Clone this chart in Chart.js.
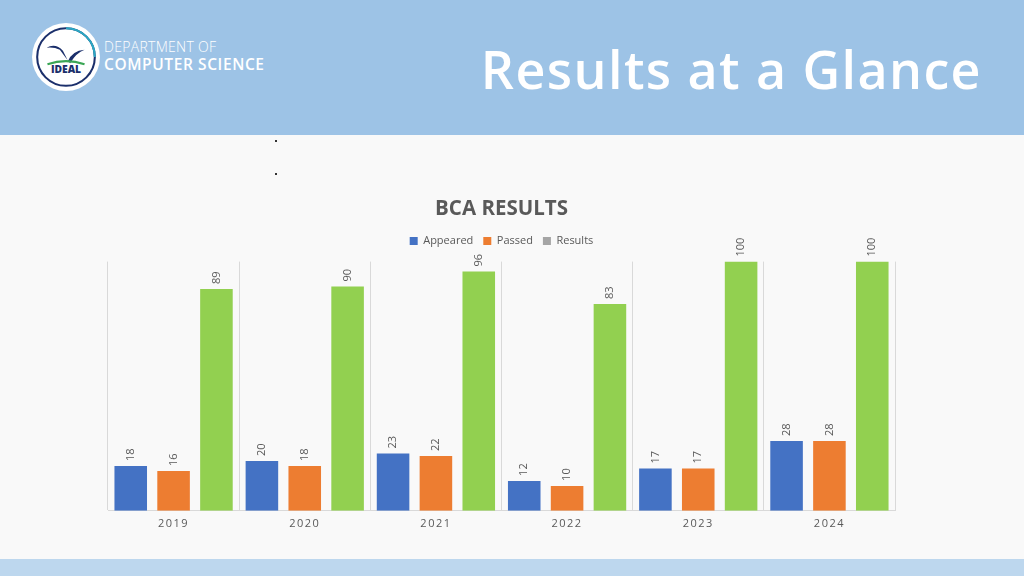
<!DOCTYPE html>
<html>
<head>
<meta charset="utf-8">
<script src="https://cdn.jsdelivr.net/npm/chart.js@4.4.1/dist/chart.umd.min.js"></script>
<style>
  html, body { margin: 0; padding: 0; }
  body { width: 1024px; height: 576px; position: relative; overflow: hidden; background: #f9f9f9; font-family: "Open Sans", sans-serif; }
  .header { position: absolute; left: 0; top: 0; width: 1024px; height: 135px; background: #9dc3e6; }
  .footer { position: absolute; left: 0; top: 559px; width: 1024px; height: 17px; background: #bdd7ee; }
  .logo { position: absolute; left: 31px; top: 22px; width: 70px; height: 70px; }
  .dept1 { position: absolute; left: 104px; top: 37px; color: #fff; font-size: 14px; font-weight: 300; letter-spacing: 0.3px; }
  .dept2 { position: absolute; left: 104px; top: 53px; color: #fff; font-size: 15.5px; font-weight: 600; letter-spacing: 0.6px; }
  .big { position: absolute; right: 42px; top: 33px; color: #fff; font-size: 52px; font-weight: 600; letter-spacing: 1.4px; }
  .dot { position: absolute; left: 275px; width: 2px; height: 2px; background: #333; }
  #wrap { position: absolute; left: 0; top: 190px; width: 1024px; height: 360px; }
</style>
</head>
<body>
<div class="header"></div>
<svg class="logo" viewBox="0 0 68 68">
  <circle cx="34" cy="34" r="33" fill="#fff"/>
  <circle cx="34" cy="34" r="28" fill="none" stroke="#1b2f6b" stroke-width="2"/>
  <path d="M34 6 A28 28 0 0 1 62 34" fill="none" stroke="#2aa8c4" stroke-width="2"/>
  <path d="M15 25 Q24 20 31 28 Q34 34 36 38 Q40 28 52 27 Q44 30 38 40 Q33 34 28 27 Q22 24 15 25 Z" fill="#1b2f6b"/>
  <path d="M16 41 Q34 35 52 41" fill="none" stroke="#3aa655" stroke-width="2"/>
  <text x="34" y="50" text-anchor="middle" font-family="Open Sans" font-weight="800" font-size="10" fill="#1b2f6b">IDEAL</text>
</svg>
<div class="dept1">DEPARTMENT OF</div>
<div class="dept2">COMPUTER SCIENCE</div>
<div class="big">Results at a Glance</div>
<div class="dot" style="top:140px"></div>
<div class="dot" style="top:173px"></div>
<div id="wrap"><canvas id="myChart"></canvas></div>
<div class="footer"></div>
<script>
// Data

const years = ['2019', '2020', '2021', '2022', '2023', '2024'];
const appeared = [18, 20, 23, 12, 17, 28];
const passed = [16, 18, 22, 10, 17, 28];
const results = [89, 90, 96, 83, 100, 100];

// Labels above bars

const barLabels = {
    id: 'barLabels',
    afterDatasetsDraw(chart) {
        const ctx = chart.ctx;
        ctx.save();
        ctx.font = '11px "Open Sans"';
        ctx.fillStyle = '#595959';
        ctx.textAlign = 'left';
        ctx.textBaseline = 'middle';
        chart.data.datasets.forEach((ds, i) => {
            chart.getDatasetMeta(i).data.forEach((bar, j) => {
                ctx.save();
                ctx.translate(bar.x, bar.y - 5);
                ctx.rotate(-Math.PI / 2);
                ctx.fillText(ds.data[j], 0, 0);
                ctx.restore();
            });
        });
        ctx.restore();
    }
};

// Extra room under legend + spaced year labels

const tweaks = {
    id: 'tweaks',
    beforeInit(chart) {
        const fit = chart.legend.fit;
        chart.legend.fit = function () {
            fit.bind(chart.legend)();
            this.height += 5;
        };
    },
    afterLayout(chart) {
        const x = chart.scales.x;
        if (x._spaced) return;
        const draw = x.drawLabels;
        x.drawLabels = function (area) {
            chart.ctx.save();
            chart.ctx.letterSpacing = '1.5px';
            draw.call(x, area);
            chart.ctx.restore();
        };
        x._spaced = true;
    }
};

// Chart

const ctx = document.getElementById('myChart').getContext('2d');

new Chart(ctx, {
    type: 'bar',
    data: {
        labels: years,
        datasets: [
            { label: 'Appeared', data: appeared, backgroundColor: '#4472c4' },
            { label: 'Passed', data: passed, backgroundColor: '#ed7d31' },
            { label: 'Results', data: results, backgroundColor: '#92d050' }
        ]
    },
    options: {
        responsive: true,
        maintainAspectRatio: false,
        animation: false,
        datasets: {
            bar: { categoryPercentage: 0.98, barPercentage: 0.76 }
        },
        layout: { padding: { left: 108, right: 129, top: 0, bottom: 14 } },
        plugins: {
            title: {
                display: true,
                text: 'BCA RESULTS',
                color: '#595959',
                font: { family: 'Open Sans', size: 20.5, weight: 'bold' },
                padding: { top: 7, bottom: 4 }
            },
            legend: {
                display: true,
                labels: {
                    boxWidth: 8,
                    boxHeight: 8,
                    color: '#595959',
                    font: { family: 'Open Sans', size: 11 },
                    padding: 10,
                    generateLabels(chart) {
                        const items = Chart.defaults.plugins.legend.labels.generateLabels(chart);
                        items[2].fillStyle = '#a5a5a5';
                        items.forEach(it => { it.lineWidth = 0; });
                        return items;
                    }
                }
            },
            tooltip: { enabled: false }
        },
        scales: {
            x: {
                grid: { color: '#d9d9d9', drawTicks: false },
                border: { color: '#d9d9d9' },
                ticks: {
                    color: '#595959',
                    font: { family: 'Open Sans', size: 11 },
                    padding: 6
                }
            },
            y: {
                display: false,
                min: 0,
                max: 100
            }
        }
    },
    plugins: [barLabels, tweaks]
});
</script>
</body>
</html>
